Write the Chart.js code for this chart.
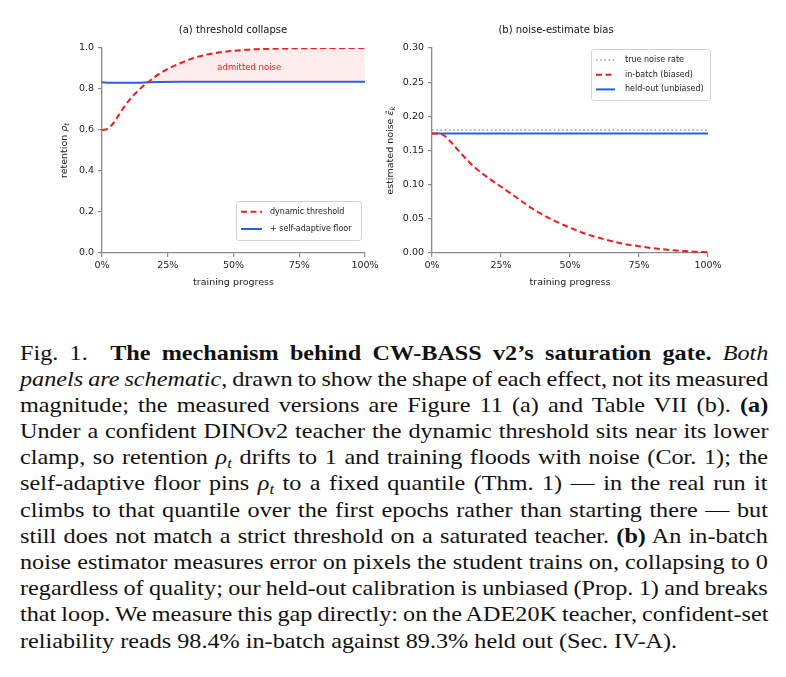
<!DOCTYPE html>
<html>
<head>
<meta charset="utf-8">
<script src="https://cdn.jsdelivr.net/npm/chart.js@4.4.1/dist/chart.umd.min.js"></script>
<style>
  body { margin: 0; background: #fff; }
  #wrap { position: relative; width: 786px; height: 677px; overflow: hidden; }
  canvas { position: absolute; top: 0; }
  #a { left: 0; }
  #b { left: 373px; }
  #cap {
    position: absolute; left: 20px; top: 339.5px; width: 680px;
    transform: scaleX(1.1); transform-origin: 0 0;
    font-family: "Liberation Serif", "Times New Roman", serif; font-size: 22px; color: #111;
  }
  .ln { height: 26.2px; line-height: 26.2px; white-space: nowrap; text-align: left; }
  sub { font-size: 70%; line-height: 0; vertical-align: -0.25em; }
</style>
</head>
<body>
<div id="wrap">
  <canvas id="a" width="393" height="300"></canvas>
  <canvas id="b" width="413" height="300"></canvas>
  <div id="cap">
    <div class="ln">Fig. 1.&nbsp; <b>The mechanism behind CW-BASS v2’s saturation gate.</b> <i>Both</i></div>
    <div class="ln"><i>panels are schematic</i>, drawn to show the shape of each effect, not its measured</div>
    <div class="ln">magnitude; the measured versions are Figure 11 (a) and Table VII (b). <b>(a)</b></div>
    <div class="ln">Under a confident DINOv2 teacher the dynamic threshold sits near its lower</div>
    <div class="ln">clamp, so retention <i>ρ<sub>t</sub></i> drifts to 1 and training floods with noise (Cor. 1); the</div>
    <div class="ln">self-adaptive floor pins <i>ρ<sub>t</sub></i> to a fixed quantile (Thm. 1) — in the real run it</div>
    <div class="ln">climbs to that quantile over the first epochs rather than starting there — but</div>
    <div class="ln">still does not match a strict threshold on a saturated teacher. <b>(b)</b> An in-batch</div>
    <div class="ln">noise estimator measures error on pixels the student trains on, collapsing to 0</div>
    <div class="ln">regardless of quality; our held-out calibration is unbiased (Prop. 1) and breaks</div>
    <div class="ln">that loop. We measure this gap directly: on the ADE20K teacher, confident-set</div>
    <div class="ln last">reliability reads 98.4% in-batch against 89.3% held out (Sec. IV-A).</div>
  </div>
</div>
<script>
// (a) threshold collapse
const dynProgress = [0, 2, 4, 6, 8, 10, 12, 14, 16, 18, 20, 22, 25, 28, 30, 35, 40, 45, 50, 55, 60, 70, 80, 90, 100];
const dynRetention = [0.600, 0.606, 0.628, 0.665, 0.705, 0.740, 0.770, 0.795, 0.818, 0.838, 0.858, 0.876, 0.898, 0.916, 0.927, 0.952, 0.968, 0.979, 0.986, 0.991, 0.995, 0.998, 0.999, 1.000, 1.000];
const floorProgress = [0, 3, 6, 10, 14, 18, 22, 30, 50, 75, 100];
const floorRetention = [0.833, 0.831, 0.830, 0.830, 0.831, 0.833, 0.834, 0.835, 0.835, 0.835, 0.835];

// (b) noise-estimate bias
const trueProgress = [0, 100];
const trueNoise = [0.18, 0.18];
const batchProgress = [0, 2, 4, 6, 8, 10, 12.5, 15, 20, 25, 30, 37.5, 45, 50, 55, 62.5, 70, 75, 80, 87.5, 95, 100];
const batchNoise = [0.175, 0.175, 0.173, 0.166, 0.157, 0.148, 0.137, 0.127, 0.111, 0.097, 0.083, 0.062, 0.046, 0.037, 0.029, 0.020, 0.013, 0.010, 0.007, 0.004, 0.002, 0.001];
const heldProgress = [0, 100];
const heldNoise = [0.175, 0.175];

const xTicks = [0, 25, 50, 75, 100];

const RED = "#ee1c1c";
const BLUE = "#2463e0";
const GREY = "#9a9a9a";
const FONT = '"DejaVu Sans", sans-serif';

Chart.defaults.font.family = FONT;
Chart.defaults.color = "#222";

const pts = (xs, ys) => xs.map((x, i) => ({ x, y: ys[i] }));

// justify caption lines by hand so they break where the figure breaks
const capW = 680;
document.querySelectorAll("#cap .ln").forEach(div => {
  if (div.classList.contains("last")) return;
  div.style.width = "max-content";
  const w = div.offsetWidth;
  div.style.width = "";
  const gaps = (div.textContent.match(/[ \u00a0]/g) || []).length;
  if (gaps) div.style.wordSpacing = ((capW - w) / gaps) + "px";
});

// draws panel title, math y label, framed legend and a note
const decor = {
  id: "decor",
  afterDraw(chart, args, o) {
    const ctx = chart.ctx, a = chart.chartArea;
    ctx.save();
    ctx.fillStyle = "#111";
    ctx.textAlign = "center";
    ctx.textBaseline = "middle";
    ctx.font = "10px " + FONT;
    ctx.fillText(o.title, o.titleX, o.titleY);

    // y label with math parts
    let w = 0;
    o.ylabel.forEach(p => { ctx.font = p.f + " " + FONT; p.w = ctx.measureText(p.t).width; w += p.w; });
    ctx.save();
    ctx.translate(o.ylabelX, (a.top + a.bottom) / 2);
    ctx.rotate(-Math.PI / 2);
    ctx.textAlign = "left";
    ctx.fillStyle = "#222";
    let cx = -w / 2;
    o.ylabel.forEach(p => {
      ctx.font = p.f + " " + FONT;
      ctx.fillText(p.t, cx, p.dy || 0);
      cx += p.w;
    });
    ctx.restore();

    // legend
    const L = o.legend;
    const bx = a.right + L.dx, by = a.top + L.dy;
    ctx.beginPath();
    ctx.roundRect(bx + 0.5, by + 0.5, L.w, L.h, 2.5);
    ctx.fillStyle = "rgba(255,255,255,0.85)";
    ctx.fill();
    ctx.strokeStyle = "#d4d4d4";
    ctx.lineWidth = 1;
    ctx.stroke();
    chart.data.datasets.forEach((ds, i) => {
      const ry = by + L.first + i * L.gap;
      ctx.beginPath();
      ctx.setLineDash(ds.borderDash || []);
      ctx.strokeStyle = ds.borderColor;
      ctx.lineWidth = ds.borderWidth;
      ctx.moveTo(bx + 5, ry);
      ctx.lineTo(bx + 5 + L.sample, ry);
      ctx.stroke();
      ctx.setLineDash([]);
      ctx.fillStyle = "#222";
      ctx.textAlign = "left";
      ctx.font = "8px " + FONT;
      ctx.fillText(ds.label, bx + 34, ry);
    });

    if (o.note) {
      ctx.fillStyle = RED;
      ctx.textAlign = "center";
      ctx.font = "8.5px " + FONT;
      ctx.fillText(o.note.text, chart.scales.x.getPixelForValue(o.note.x), chart.scales.y.getPixelForValue(o.note.y));
    }
    ctx.restore();
  }
};

function axes(yMax, yStep, digits, yWidth) {
  const line = { display: true, drawOnChartArea: false, drawTicks: true, tickLength: 4, color: "#8a8a8a", lineWidth: 1.2 };
  return {
    x: {
      type: "linear", min: 0, max: 100,
      afterBuildTicks: s => { s.ticks = xTicks.map(v => ({ value: v })); },
      afterFit: s => { s.height = 47; },
      grid: line,
      border: { display: true, color: "#8a8a8a", width: 1.3 },
      ticks: { font: { size: 9.5 }, padding: 3, maxRotation: 0, callback: v => v + "%" },
      title: { display: true, text: "training progress", font: { size: 9.5 }, padding: { top: 0, bottom: 12 } }
    },
    y: {
      min: 0, max: yMax,
      afterFit: s => { s.width = yWidth; },
      grid: line,
      border: { display: true, color: "#8a8a8a", width: 1.3 },
      ticks: { font: { size: 9.5 }, padding: 4, stepSize: yStep, callback: v => v.toFixed(digits) }
    }
  };
}

const common = {
  responsive: false,
  animation: false,
  devicePixelRatio: 1,
  elements: { point: { radius: 0 }, line: { cubicInterpolationMode: "monotone" } },
  plugins: { legend: { display: false }, tooltip: { enabled: false } }
};

new Chart(document.getElementById("a"), {
  type: "line",
  data: {
    datasets: [
      {
        label: "dynamic threshold",
        data: pts(dynProgress, dynRetention),
        borderColor: RED, borderWidth: 2, borderDash: [6, 3.5],
        fill: { target: 1, above: "rgba(255,40,40,0.09)", below: "rgba(0,0,0,0)" }
      },
      {
        label: "+ self-adaptive floor",
        data: pts(floorProgress, floorRetention),
        borderColor: BLUE, borderWidth: 2, fill: false
      }
    ]
  },
  options: {
    ...common,
    layout: { autoPadding: false, padding: { left: 0, right: 28, top: 48, bottom: 0 } },
    scales: axes(1, 0.2, 1, 102),
    plugins: {
      ...common.plugins,
      decor: {
        title: "(a) threshold collapse", titleX: 233, titleY: 30,
        ylabelX: 65,
        ylabel: [
          { t: "retention ", f: "9.5px" },
          { t: "ρ", f: "italic 9.5px" },
          { t: "t", f: "italic 7px", dy: 2.5 }
        ],
        legend: { dx: -129, dy: 153, w: 125, h: 39, first: 10.7, gap: 17.3, sample: 21 },
        note: { text: "admitted noise", x: 56, y: 0.905 }
      }
    }
  },
  plugins: [decor]
});

new Chart(document.getElementById("b"), {
  type: "line",
  data: {
    datasets: [
      {
        label: "true noise rate",
        data: pts(trueProgress, trueNoise),
        borderColor: GREY, borderWidth: 1.6, borderDash: [1.6, 2.6], fill: false
      },
      {
        label: "in-batch (biased)",
        data: pts(batchProgress, batchNoise),
        borderColor: RED, borderWidth: 2, borderDash: [6, 3.5], fill: false
      },
      {
        label: "held-out (unbiased)",
        data: pts(heldProgress, heldNoise),
        borderColor: BLUE, borderWidth: 2, fill: false
      }
    ]
  },
  options: {
    ...common,
    layout: { autoPadding: false, padding: { left: 0, right: 78, top: 48, bottom: 0 } },
    scales: axes(0.3, 0.05, 2, 59),
    plugins: {
      ...common.plugins,
      decor: {
        title: "(b) noise-estimate bias", titleX: 183, titleY: 30,
        ylabelX: 18,
        ylabel: [
          { t: "estimated noise ", f: "9.5px" },
          { t: "ε\u0302", f: "italic 9.5px" },
          { t: "k", f: "italic 7px", dy: 2.5 }
        ],
        legend: { dx: -117, dy: 1, w: 119, h: 51, first: 11, gap: 14.7, sample: 19 }
      }
    }
  },
  plugins: [decor]
});
</script>
</body>
</html>
